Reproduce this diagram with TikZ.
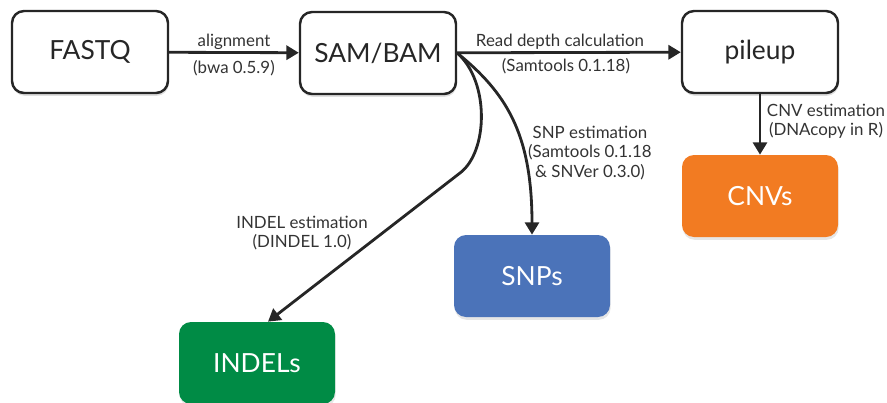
\documentclass[tikz,border=0pt]{standalone}
\usepackage{fontspec}
\setmainfont{Lato}
\usepackage{xcolor}
\usepackage{tikz}
\usetikzlibrary{arrows.meta, positioning, shadows}

\definecolor{cnvorange}{HTML}{F27B22}
\definecolor{snpblue}{HTML}{4B73B9}
\definecolor{indelgreen}{HTML}{008B45}
\definecolor{labelgray}{HTML}{333333}

\begin{document}
\begin{tikzpicture}[
    filebox/.style={draw=black!85, line width=1.4pt, rounded corners=0.24cm, fill=white,
        minimum width=3.12cm, minimum height=1.64cm, font=\fontsize{15}{17}\selectfont, text=black!85,
        drop shadow={shadow xshift=0.4pt, shadow yshift=-1.6pt, opacity=0.25}},
    resultbox/.style={rounded corners=0.24cm, minimum width=3.12cm, minimum height=1.64cm,
        font=\fontsize{15}{17}\selectfont, text=white,
        drop shadow={shadow xshift=0.4pt, shadow yshift=-1.6pt, opacity=0.2}},
    arrow/.style={-{Triangle[length=7pt, width=8pt]}, line width=1.6pt, black!85},
    tool/.style={font=\fontsize{9.6}{11}\selectfont, text=labelgray, align=center}
]

\useasboundingbox (0,0) rectangle (17.74,8.04);

% Input and intermediate files
\node[filebox] (fastq)  at (1.8,7.0)   {FASTQ};
\node[filebox] (sambam) at (7.56,6.98) {SAM/BAM};
\node[filebox] (pileup) at (15.2,7.0)  {pileup};

% Variant calls
\node[resultbox, fill=cnvorange]  (cnvs)   at (15.2,4.12) {CNVs};
\node[resultbox, fill=snpblue]    (snps)   at (10.64,2.52) {SNPs};
\node[resultbox, fill=indelgreen] (indels) at (5.14,0.78) {INDELs};

% Straight steps
\draw[arrow] (fastq) -- (sambam);
\draw[arrow] (sambam) -- (pileup);
\draw[arrow] (pileup) -- (cnvs);

% Curved steps out of SAM/BAM
\draw[arrow] (sambam.east) .. controls (10.1,6.2) and (10.64,5.4) .. (snps.north);
\draw[arrow] (sambam.east) .. controls (9.8,6.4) and (9.76,5.0) .. (9.2,4.58)
    -- ([xshift=0.22cm]indels.north);

% Step labels
\node[tool] (align_lbl)  at (4.68,7.2)  {alignment};
\node[tool] (bwa_lbl)    at (4.68,6.68) {(bwa 0.5.9)};
\node[tool] (depth_lbl)  at (11.2,7.2)  {Read depth calculation};
\node[tool] (stools_lbl) at (11.32,6.72) {(Samtools 0.1.18)};
\node[tool] (cnv_lbl)    at (16.52,5.62) {CNV estimation\\(DNAcopy in R)};
\node[tool] (snp_lbl)    at (11.8,4.98) {SNP estimation\\(Samtools 0.1.18\\\& SNVer 0.3.0)};
\node[tool] (indel_lbl)  at (6.04,3.38) {INDEL estimation\\(DINDEL 1.0)};

\end{tikzpicture}
\end{document}
